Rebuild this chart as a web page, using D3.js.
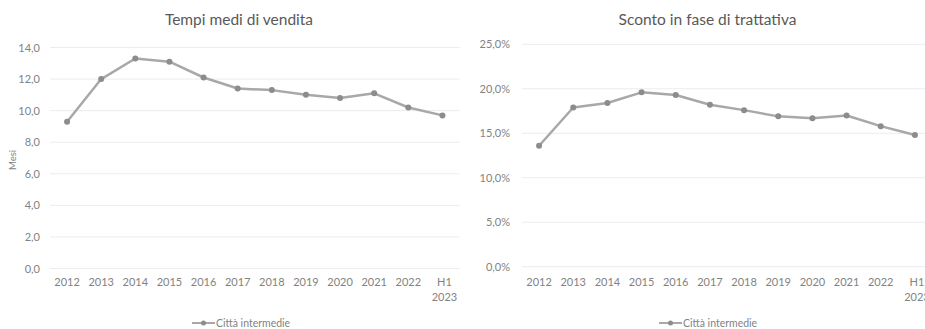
<!DOCTYPE html>
<html><head><meta charset="utf-8">
<script src="https://cdn.jsdelivr.net/npm/d3@7"></script>
<style>body{margin:0;background:#fff;overflow:hidden}svg{display:block;font-family:Lato,"Open Sans",sans-serif}</style>
</head><body>
<svg id="c" width="925" height="329"></svg>
<script>
const categories = ["2012","2013","2014","2015","2016","2017","2018","2019","2020","2021","2022","H1 2023"];
const tempiValues = [9.3,12.0,13.3,13.1,12.1,11.4,11.3,11.0,10.8,11.1,10.2,9.7];
const scontoValues = [13.6,17.9,18.4,19.6,19.3,18.2,17.6,16.9,16.7,17.0,15.8,14.8];
const tempiTicks = [0,2,4,6,8,10,12,14];
const scontoTicks = [0,5,10,15,20,25];
const seriesName = "Città intermedie";

const svg = d3.select("#c");
const lineCol = "#a8a8a8", dotCol = "#8c8c8c", gridCol = "#e9edf0", txtCol = "#828282";
const fmt1 = v => d3.format(".1f")(v).replace(".", ",");

function panel(o){
  const g = svg.append("g");
  const x = d3.scaleBand().domain(categories).range([o.x0, o.x1]);
  const y = d3.scaleLinear().domain([0, o.max]).range([o.y0, o.y1]);
  g.append("g").selectAll("line").data(o.ticks).join("line")
    .attr("x1", o.x0).attr("x2", o.x1)
    .attr("y1", d => y(d)).attr("y2", d => y(d))
    .attr("stroke", gridCol).attr("stroke-width", 1);
  const ax = d3.axisLeft(y).tickValues(o.ticks).tickSize(0).tickPadding(0).tickFormat(o.fmt);
  const ag = g.append("g").attr("transform", `translate(${o.lx},0)`).call(ax);
  ag.select(".domain").remove();
  ag.selectAll("text").attr("fill", txtCol).attr("font-size", 11).attr("font-family","Lato");
  const cx = d => x(d) + x.bandwidth()/2;
  const xl = g.append("g").selectAll("text").data(categories).join("text")
    .attr("x", d => cx(d)).attr("y", o.xly)
    .attr("text-anchor", "middle").attr("fill", txtCol).attr("font-size", 11);
  xl.each(function(d){
    const parts = d.split(" ");
    const t = d3.select(this);
    parts.forEach((p,i) => t.append("tspan").attr("x", cx(d) + (parts.length>1?2:0)).attr("dy", i ? 14.5 : 0).text(p));
  });
  const line = d3.line().x((d,i) => cx(categories[i])).y(d => y(d));
  g.append("path").datum(o.values).attr("d", line).attr("fill","none")
    .attr("stroke", lineCol).attr("stroke-width", 2.5).attr("stroke-linejoin","round");
  g.append("g").selectAll("circle").data(o.values).join("circle")
    .attr("cx", (d,i) => cx(categories[i])).attr("cy", d => y(d)).attr("r", 3)
    .attr("fill", dotCol);
  g.append("text").attr("x", o.tx).attr("y", 25).attr("text-anchor","middle")
    .attr("fill", "#595959").attr("font-size", 15.5).text(o.title);
  const lg = g.append("g").attr("transform", `translate(${o.legx},323)`);
  lg.append("line").attr("x1", 0).attr("x2", 23).attr("y1", 0).attr("y2", 0).attr("stroke", lineCol).attr("stroke-width", 2);
  lg.append("circle").attr("cx", 11.5).attr("cy", 0).attr("r", 2.5).attr("fill", dotCol);
  lg.append("text").attr("x", 24).attr("y", 3.5).attr("fill", txtCol).attr("font-size", 10.5).text(seriesName);
}

panel({x0:50, x1:459.5, y0:268.5, y1:47.5, max:14, ticks:tempiTicks, values:tempiValues,
  fmt: fmt1, lx:40, xly:286, title:"Tempi medi di vendita", tx:239, legx:192});
panel({x0:522, x1:932, y0:266.7, y1:44.3, max:25, ticks:scontoTicks, values:scontoValues,
  fmt: v => fmt1(v) + "%", lx:510, xly:286, title:"Sconto in fase di trattativa", tx:707.5, legx:659});

svg.append("text").attr("transform","translate(16,160) rotate(-90)").attr("text-anchor","middle")
  .attr("fill", txtCol).attr("font-size", 9.5).text("Mesi");
</script>
</body></html>
